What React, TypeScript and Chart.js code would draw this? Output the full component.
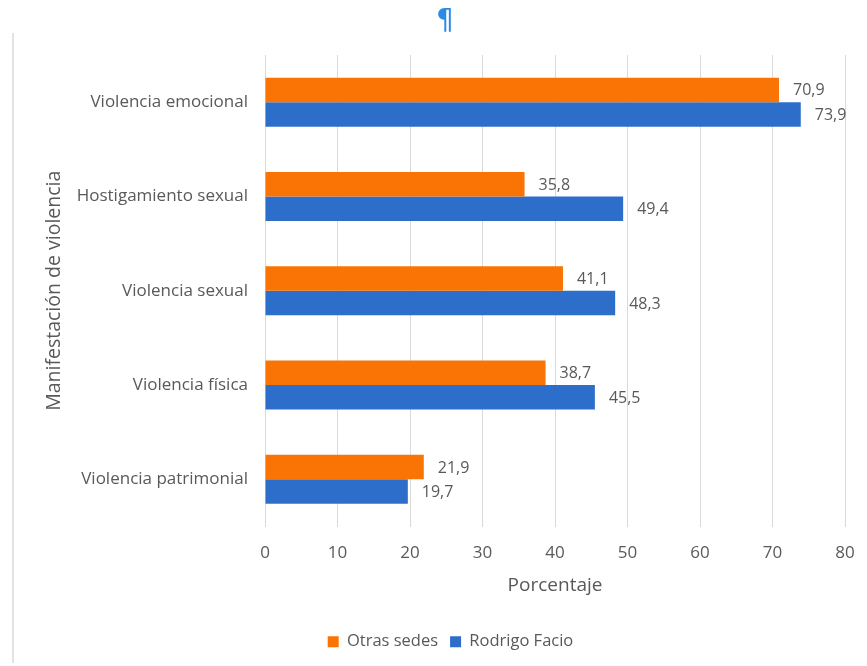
import React, { useEffect, useRef } from 'react';
import { Chart, registerables } from 'chart.js';

Chart.register(...registerables);

const categories = [
  'Violencia emocional',
  'Hostigamiento sexual',
  'Violencia sexual',
  'Violencia física',
  'Violencia patrimonial',
];
const seriesNames = ['Otras sedes', 'Rodrigo Facio'];
const otrasSedes = [70.9, 35.8, 41.1, 38.7, 21.9];
const rodrigoFacio = [73.9, 49.4, 48.3, 45.5, 19.7];
const xMin = 0;
const xMax = 80;
const xStep = 10;
const xTitle = 'Porcentaje';
const yTitle = 'Manifestación de violencia';

const ORANGE = '#FA7305';
const BLUE = '#2E6ECB';
const TEXT = '#595959';
const FONT = '"Open Sans", "Noto Sans", sans-serif';

const valueLabels = {
  id: 'valueLabels',
  afterDatasetsDraw(chart: any) {
    const ctx = chart.ctx;
    ctx.save();
    ctx.font = `16px ${FONT}`;
    ctx.fillStyle = TEXT;
    ctx.textBaseline = 'middle';
    ctx.textAlign = 'left';
    chart.data.datasets.forEach((ds: any, i: number) => {
      const meta = chart.getDatasetMeta(i);
      meta.data.forEach((bar: any, j: number) => {
        const v = ds.data[j] as number;
        ctx.fillText(v.toFixed(1).replace('.', ','), bar.x + 14, bar.y + 1);
      });
    });
    ctx.restore();
  },
};

const shiftLegend = {
  id: 'shiftLegend',
  afterLayout(chart: any) {
    const l = chart.legend;
    if (l) {
      l.left += 8;
      l.right += 8;
    }
  },
};

export default function App() {
  const ref = useRef<HTMLCanvasElement | null>(null);

  useEffect(() => {
    if (!ref.current) return;
    const chart = new Chart(ref.current, {
      type: 'bar',
      data: {
        labels: categories,
        datasets: [
          {
            label: seriesNames[0],
            data: otrasSedes,
            backgroundColor: ORANGE,
            categoryPercentage: 0.52,
            barPercentage: 1,
          },
          {
            label: seriesNames[1],
            data: rodrigoFacio,
            backgroundColor: BLUE,
            categoryPercentage: 0.52,
            barPercentage: 1,
          },
        ],
      },
      options: {
        indexAxis: 'y',
        responsive: false,
        animation: false,
        layout: { padding: { left: 40, right: 67, top: 55, bottom: 6 } },
        scales: {
          x: {
            min: xMin,
            max: xMax,
            ticks: {
              stepSize: xStep,
              color: TEXT,
              font: { family: FONT, size: 17 },
              padding: 16,
            },
            grid: { color: '#d9d9d9', drawTicks: false },
            border: { display: false },
            title: {
              display: true,
              text: xTitle,
              color: TEXT,
              font: { family: FONT, size: 19 },
              padding: { top: 0, bottom: 25 },
            },
            afterFit(scale: any) {
              scale.height = 95;
            },
          },
          y: {
            ticks: {
              color: TEXT,
              font: { family: FONT, size: 17 },
              padding: 17,
            },
            grid: { display: false, drawTicks: false },
            border: { display: false },
            title: {
              display: true,
              text: yTitle,
              color: TEXT,
              font: { family: FONT, size: 19.5 },
              padding: { top: 3, bottom: 0 },
            },
            afterFit(scale: any) {
              scale.width = 225;
            },
          },
        },
        plugins: {
          legend: {
            position: 'bottom',
            labels: {
              boxWidth: 11,
              boxHeight: 11,
              color: TEXT,
              font: { family: FONT, size: 16.5 },
              padding: 12,
            },
          },
          tooltip: { enabled: false },
        },
      },
      plugins: [valueLabels, shiftLegend],
    });
    return () => chart.destroy();
  }, []);

  return (
    <div
      style={{
        position: 'fixed',
        left: 0,
        top: 0,
        width: 867,
        height: 666,
        overflow: 'hidden',
        background: '#ffffff',
      }}
    >
      <canvas
        ref={ref}
        width={912}
        height={666}
        style={{ position: 'absolute', left: 0, top: 0, width: 912, height: 666 }}
      />
      <div
        style={{
          position: 'absolute',
          left: 12,
          top: 33,
          width: 2,
          height: 630,
          background: '#e3e3e3',
        }}
      />
      <div
        style={{
          position: 'absolute',
          left: 436,
          top: 0,
          fontFamily: '"DejaVu Sans", sans-serif',
          fontSize: 28,
          lineHeight: '40px',
          color: '#2B8AE6',
        }}
      >
        ¶
      </div>
    </div>
  );
}
